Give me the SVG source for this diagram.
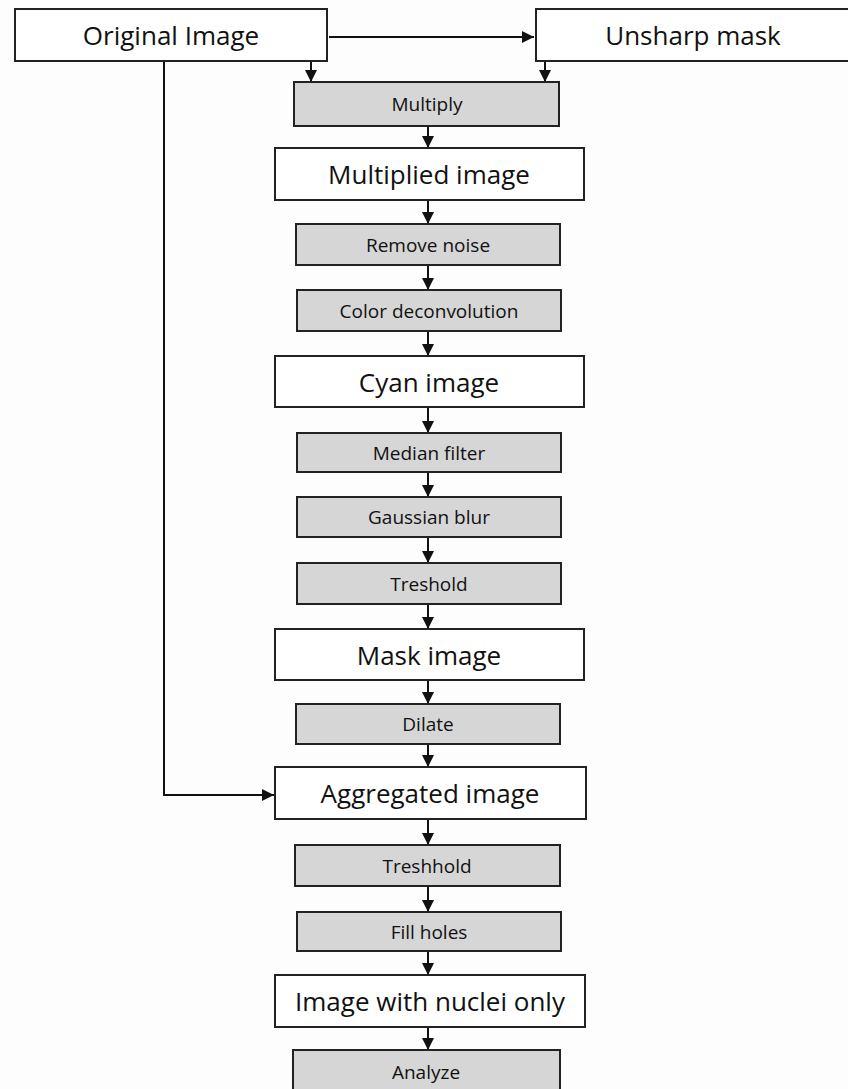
<svg xmlns="http://www.w3.org/2000/svg" width="848" height="1089" viewBox="0 0 848 1089">
<style>
.big rect{fill:#fff;stroke:#222;stroke-width:2}
.op rect{fill:#d6d6d6;stroke:#222;stroke-width:2}
text{font-family:"Open Sans","Noto Sans",sans-serif;fill:#111;text-anchor:middle;dominant-baseline:central}
.big text{font-size:26px}
.op text{font-size:19px}
#connectors path{fill:none;stroke:#111;stroke-width:2}
</style>
<defs>
<marker id="ah" viewBox="0 0 10 10" refX="10" refY="5" markerWidth="6" markerHeight="6" markerUnits="strokeWidth" orient="auto"><path d="M0,0 L10,5 L0,10 z" fill="#111"/></marker>
</defs>
<rect width="848" height="1089" fill="#fdfdfd"/>
<g id="connectors">
<path d="M329,37 H534" marker-end="url(#ah)"/>
<path d="M311,61 V82" marker-end="url(#ah)"/>
<path d="M545,61 V82" marker-end="url(#ah)"/>
<path d="M164,61 V795 H274" marker-end="url(#ah)"/>
<path d="M428,126 V148" marker-end="url(#ah)"/>
<path d="M428,200 V224" marker-end="url(#ah)"/>
<path d="M428,265 V290" marker-end="url(#ah)"/>
<path d="M428,331 V356" marker-end="url(#ah)"/>
<path d="M428,407 V433" marker-end="url(#ah)"/>
<path d="M428,472 V497" marker-end="url(#ah)"/>
<path d="M428,537 V563" marker-end="url(#ah)"/>
<path d="M428,604 V629" marker-end="url(#ah)"/>
<path d="M428,680 V704" marker-end="url(#ah)"/>
<path d="M428,744 V767" marker-end="url(#ah)"/>
<path d="M428,819 V845" marker-end="url(#ah)"/>
<path d="M428,886 V912" marker-end="url(#ah)"/>
<path d="M428,951 V975" marker-end="url(#ah)"/>
<path d="M428,1027 V1050" marker-end="url(#ah)"/>
</g>
<g id="original" class="big"><rect x="15" y="9" width="312" height="52"/><text x="171" y="35">Original Image</text></g>
<g id="unsharp" class="big"><rect x="536" y="9" width="316" height="52"/><text x="693" y="35">Unsharp mask</text></g>
<g id="multiply" class="op"><rect x="294" y="82" width="265" height="44"/><text x="427" y="104">Multiply</text></g>
<g id="multiplied" class="big"><rect x="275" y="148" width="309" height="52"/><text x="429" y="174">Multiplied image</text></g>
<g id="removenoise" class="op"><rect x="296" y="224" width="264" height="41"/><text x="428" y="244.5">Remove noise</text></g>
<g id="colordeconv" class="op"><rect x="297" y="290" width="264" height="41"/><text x="429" y="310.5">Color deconvolution</text></g>
<g id="cyan" class="big"><rect x="275" y="356" width="309" height="51"/><text x="429" y="381.5">Cyan image</text></g>
<g id="median" class="op"><rect x="297" y="433" width="264" height="39"/><text x="429" y="452.5">Median filter</text></g>
<g id="gaussian" class="op"><rect x="297" y="497" width="264" height="40"/><text x="429" y="517">Gaussian blur</text></g>
<g id="treshold" class="op"><rect x="297" y="563" width="264" height="41"/><text x="429" y="583.5">Treshold</text></g>
<g id="mask" class="big"><rect x="275" y="629" width="309" height="51"/><text x="429" y="654.5">Mask image</text></g>
<g id="dilate" class="op"><rect x="296" y="704" width="264" height="40"/><text x="428" y="724">Dilate</text></g>
<g id="aggregated" class="big"><rect x="275" y="767" width="311" height="52"/><text x="430" y="793">Aggregated image</text></g>
<g id="treshhold" class="op"><rect x="295" y="845" width="265" height="41"/><text x="427" y="865.5">Treshhold</text></g>
<g id="fillholes" class="op"><rect x="297" y="912" width="264" height="39"/><text x="429" y="931.5">Fill holes</text></g>
<g id="nuclei" class="big"><rect x="275" y="975" width="310" height="52"/><text x="430" y="1001">Image with nuclei only</text></g>
<g id="analyze" class="op"><rect x="293" y="1050" width="267" height="44"/><text x="426" y="1072">Analyze</text></g>
</svg>
